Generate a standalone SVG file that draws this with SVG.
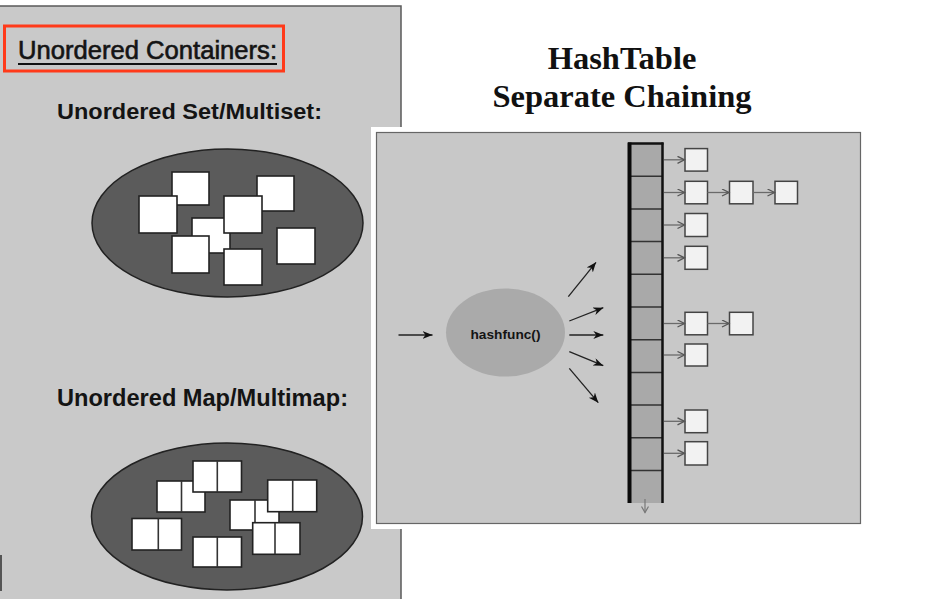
<svg xmlns="http://www.w3.org/2000/svg" width="949" height="599" viewBox="0 0 949 599">
<defs>
<style>
.panel{fill:#c9c9c9;stroke:#5a5a5a;stroke-width:1.5}
.blob{fill:#5b5b5b;stroke:#222;stroke-width:1.5}
.sq{fill:#fff;stroke:#222;stroke-width:1.6}
.dv{stroke:#333;stroke-width:1.6}
.lbl{font-family:"Liberation Sans",Arial,sans-serif;fill:#141414}
.title{font-family:"Liberation Serif","Times New Roman",serif;font-weight:bold;font-size:32.5px;fill:#111;text-anchor:middle}
.box{fill:#f2f2f2;stroke:#444;stroke-width:1.5}
.chain{stroke:#6a6a6a;stroke-width:1.3;fill:none}
.fan{stroke:#222;stroke-width:1.3;fill:none}
.cell{stroke:#333;stroke-width:1.5}
</style>
<marker id="chev" markerUnits="userSpaceOnUse" markerWidth="10" markerHeight="10" refX="8" refY="4" orient="auto">
<path d="M1,0.5 L8,4 L1,7.5" fill="none" stroke="#555" stroke-width="1.3"/>
</marker>
<marker id="barb" markerUnits="userSpaceOnUse" markerWidth="12" markerHeight="10" refX="10" refY="4" orient="auto">
<path d="M0,0 L10,4 L0,8 L3,4 z" fill="#111"/>
</marker>
<marker id="dn" markerUnits="userSpaceOnUse" markerWidth="10" markerHeight="10" refX="7" refY="4" orient="auto">
<path d="M1,0.5 L7,4 L1,7.5" fill="none" stroke="#777" stroke-width="1.2"/>
</marker>
</defs>
<rect width="949" height="599" fill="#fff"/>

<g id="left-panel">
<rect class="panel" x="-3" y="6" width="404" height="600"/>
<line x1="1" y1="555" x2="1" y2="591" stroke="#555" stroke-width="2"/>
</g>

<g id="header">
<rect x="4.5" y="26" width="279" height="45" fill="none" stroke="#ff3a1a" stroke-width="3"/>
<text class="lbl" x="18" y="59" font-size="25" stroke="#141414" stroke-width="0.6" textLength="259" lengthAdjust="spacingAndGlyphs">Unordered Containers:</text>
<line x1="18" y1="64" x2="277" y2="64" stroke="#111" stroke-width="2.2"/>
</g>

<g id="set-label">
<text class="lbl" x="57" y="119" font-size="22" font-weight="bold" textLength="265" lengthAdjust="spacingAndGlyphs">Unordered Set/Multiset:</text>
</g>

<g id="set">
<ellipse class="blob" cx="227.5" cy="223" rx="135.5" ry="74"/>
<rect class="sq" x="172" y="172" width="37" height="33"/>
<rect class="sq" x="139" y="196" width="38" height="37"/>
<rect class="sq" x="257" y="176" width="37" height="35"/>
<rect class="sq" x="192" y="218" width="38" height="35"/>
<rect class="sq" x="224" y="196" width="38" height="37"/>
<rect class="sq" x="172" y="236" width="37" height="37"/>
<rect class="sq" x="224" y="249" width="38" height="36"/>
<rect class="sq" x="277" y="228" width="38" height="36"/>
</g>

<g id="map-label">
<text class="lbl" x="57" y="406" font-size="24" font-weight="bold" textLength="291" lengthAdjust="spacingAndGlyphs">Unordered Map/Multimap:</text>
</g>

<g id="map">
<ellipse class="blob" cx="227" cy="516.5" rx="135.5" ry="73.5"/>
<rect class="sq" x="157" y="481" width="48" height="31"/><line class="dv" x1="181.5" y1="481" x2="181.5" y2="512"/>
<rect class="sq" x="193" y="461" width="48.5" height="31"/><line class="dv" x1="217.3" y1="461" x2="217.3" y2="492"/>
<rect class="sq" x="132" y="518.5" width="49.5" height="31.5"/><line class="dv" x1="158.3" y1="518.5" x2="158.3" y2="550"/>
<rect class="sq" x="193" y="537" width="48.5" height="30"/><line class="dv" x1="217.3" y1="537" x2="217.3" y2="567"/>
<rect class="sq" x="230" y="500" width="49" height="30"/><line class="dv" x1="255" y1="500" x2="255" y2="530"/>
<rect class="sq" x="267.7" y="480" width="49" height="31.7"/><line class="dv" x1="292.7" y1="480" x2="292.7" y2="511.7"/>
<rect class="sq" x="252.7" y="522.7" width="47.3" height="31.6"/><line class="dv" x1="275" y1="522.7" x2="275" y2="554.3"/>
</g>

<g id="title">
<text class="title" x="622" y="69">HashTable</text>
<text class="title" x="622" y="107">Separate Chaining</text>
</g>

<g id="hash-panel">
<rect x="371" y="127" width="495" height="402" fill="#fff"/>
<rect x="376.5" y="132.5" width="484" height="391" fill="#c8c8c8" stroke="#666" stroke-width="1.2"/>
</g>

<g id="hashfunc">
<ellipse cx="505.5" cy="332.5" rx="59.5" ry="44" fill="#aaaaaa"/>
<text class="lbl" x="505.5" y="338.5" font-size="13.5" font-weight="bold" text-anchor="middle" textLength="70" lengthAdjust="spacingAndGlyphs">hashfunc()</text>
</g>

<g id="buckets">
<rect x="629" y="143.5" width="33.5" height="359.5" fill="#a9a9a9"/>
<line class="cell" x1="629" y1="176.2" x2="663" y2="176.2"/>
<line class="cell" x1="629" y1="208.9" x2="663" y2="208.9"/>
<line class="cell" x1="629" y1="241.6" x2="663" y2="241.6"/>
<line class="cell" x1="629" y1="274.3" x2="663" y2="274.3"/>
<line class="cell" x1="629" y1="307" x2="663" y2="307"/>
<line class="cell" x1="629" y1="339.7" x2="663" y2="339.7"/>
<line class="cell" x1="629" y1="372.4" x2="663" y2="372.4"/>
<line class="cell" x1="629" y1="405.1" x2="663" y2="405.1"/>
<line class="cell" x1="629" y1="437.8" x2="663" y2="437.8"/>
<line class="cell" x1="629" y1="470.5" x2="663" y2="470.5"/>
<line x1="628" y1="143.5" x2="663.5" y2="143.5" stroke="#111" stroke-width="2.5"/>
<line x1="629.5" y1="142.5" x2="629.5" y2="503" stroke="#0a0a0a" stroke-width="4"/>
<line x1="662.5" y1="142.5" x2="662.5" y2="503" stroke="#111" stroke-width="2.5"/>
</g>

<g id="chain-nodes">
<rect class="box" x="685" y="148.6" width="22.5" height="22.5"/>
<rect class="box" x="685" y="181.3" width="22.5" height="22.5"/>
<rect class="box" x="729.5" y="181.3" width="23.5" height="22.5"/>
<rect class="box" x="775" y="181.3" width="22.5" height="22.5"/>
<rect class="box" x="685" y="213.5" width="22.5" height="23"/>
<rect class="box" x="685" y="246.3" width="22.5" height="23"/>
<rect class="box" x="685" y="312.3" width="22.5" height="22.5"/>
<rect class="box" x="729.5" y="312.3" width="23.5" height="22.5"/>
<rect class="box" x="685" y="344" width="22.5" height="22"/>
<rect class="box" x="685" y="410" width="22.5" height="22.7"/>
<rect class="box" x="685" y="441.7" width="22.5" height="23.3"/>
</g>

<g id="connectors">
<line class="fan" x1="398.5" y1="335" x2="432.5" y2="335" marker-end="url(#barb)"/>
<line class="fan" x1="568.3" y1="296.7" x2="596" y2="262.3" marker-end="url(#barb)"/>
<line class="fan" x1="569.3" y1="321" x2="603.3" y2="307.7" marker-end="url(#barb)"/>
<line class="fan" x1="569.3" y1="335" x2="603.3" y2="335" marker-end="url(#barb)"/>
<line class="fan" x1="569.3" y1="351.7" x2="603.3" y2="365.7" marker-end="url(#barb)"/>
<line class="fan" x1="569.3" y1="368.3" x2="598.3" y2="402.7" marker-end="url(#barb)"/>
<line class="chain" x1="664" y1="159.8" x2="684.5" y2="159.8" marker-end="url(#chev)"/>
<line class="chain" x1="664" y1="192.5" x2="684.5" y2="192.5" marker-end="url(#chev)"/>
<line class="chain" x1="707.5" y1="192.5" x2="729" y2="192.5" marker-end="url(#chev)"/>
<line class="chain" x1="753" y1="192.5" x2="774.5" y2="192.5" marker-end="url(#chev)"/>
<line class="chain" x1="664" y1="225" x2="684.5" y2="225" marker-end="url(#chev)"/>
<line class="chain" x1="664" y1="257.8" x2="684.5" y2="257.8" marker-end="url(#chev)"/>
<line class="chain" x1="664" y1="323.5" x2="684.5" y2="323.5" marker-end="url(#chev)"/>
<line class="chain" x1="707.5" y1="323.5" x2="729" y2="323.5" marker-end="url(#chev)"/>
<line class="chain" x1="664" y1="355" x2="684.5" y2="355" marker-end="url(#chev)"/>
<line class="chain" x1="664" y1="421.3" x2="684.5" y2="421.3" marker-end="url(#chev)"/>
<line class="chain" x1="664" y1="453.3" x2="684.5" y2="453.3" marker-end="url(#chev)"/>
<line x1="645" y1="499" x2="645" y2="512.5" stroke="#777" stroke-width="1.2" marker-end="url(#dn)"/>
</g>
</svg>
